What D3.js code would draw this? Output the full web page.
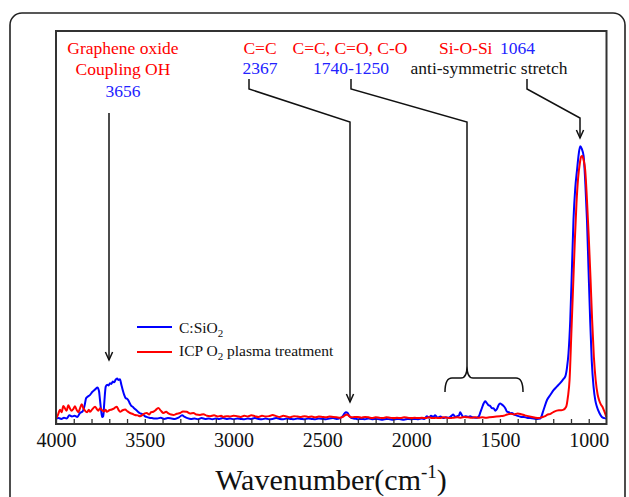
<!DOCTYPE html>
<html>
<head>
<meta charset="utf-8">
<script src="https://cdn.jsdelivr.net/npm/d3@7"></script>
<style>
  html, body { margin: 0; padding: 0; background: #fff; }
  svg { display: block; }
  text { font-family: "Liberation Serif", "Times New Roman", serif; }
</style>
</head>
<body>
<svg id="chart" width="629" height="497"></svg>
<script>
// ---------- DATA ----------
const xTickLabels = [4000, 3500, 3000, 2500, 2000, 1500, 1000];
const xMinorTicks = d3.range(4000, 999, -100);
const seriesNames = ["C:SiO2", "ICP O2 plasma treatment"];

// C:SiO2 (blue) : [wavenumber, absorbance a.u.]
const blueSpectrum = [
 [4000,0.014],[3985,0.015],[3970,0.013],[3955,0.016],[3940,0.014],[3925,0.022],[3910,0.019],[3895,0.021],[3880,0.018],[3865,0.028],
 [3850,0.032],[3840,0.045],[3830,0.066],[3820,0.070],[3808,0.074],[3795,0.082],[3785,0.086],[3775,0.090],[3767,0.093],[3758,0.084],
 [3752,0.060],[3746,0.035],[3740,0.018],[3734,0.020],[3728,0.055],[3720,0.095],[3712,0.100],[3704,0.098],[3696,0.104],[3688,0.102],
 [3680,0.108],[3672,0.106],[3664,0.113],[3656,0.116],[3648,0.112],[3640,0.114],[3632,0.100],[3624,0.086],[3616,0.074],[3608,0.066],
 [3600,0.064],[3592,0.060],[3584,0.052],[3576,0.046],[3568,0.044],[3560,0.040],[3550,0.036],[3540,0.032],[3530,0.028],[3520,0.026],
 [3510,0.024],[3500,0.020],[3490,0.018],[3475,0.016],[3460,0.015],[3445,0.014],[3430,0.014],[3410,0.016],[3390,0.013],[3370,0.015],
 [3350,0.014],[3330,0.013],[3310,0.016],[3290,0.022],[3275,0.018],[3260,0.015],[3240,0.013],[3220,0.014],[3200,0.012],[3180,0.015],
 [3160,0.013],[3140,0.014],[3120,0.012],[3100,0.014],[3080,0.013],[3060,0.015],[3040,0.013],[3020,0.014],[3000,0.012],[2980,0.014],
 [2960,0.013],[2940,0.012],[2920,0.014],[2900,0.013],[2880,0.015],[2860,0.013],[2840,0.012],[2820,0.014],[2800,0.012],[2780,0.013],
 [2760,0.015],[2740,0.013],[2720,0.012],[2700,0.014],[2680,0.013],[2660,0.012],[2640,0.014],[2620,0.013],[2600,0.012],[2580,0.014],
 [2560,0.013],[2540,0.012],[2520,0.014],[2500,0.013],[2480,0.012],[2460,0.014],[2440,0.015],[2420,0.013],[2400,0.015],[2385,0.020],
 [2375,0.027],[2367,0.030],[2358,0.028],[2350,0.022],[2340,0.016],[2325,0.014],[2310,0.013],[2300,0.012],[2280,0.013],[2260,0.012],
 [2240,0.014],[2220,0.012],[2200,0.013],[2180,0.012],[2160,0.011],[2140,0.013],[2120,0.012],[2100,0.011],[2080,0.013],[2060,0.012],
 [2040,0.011],[2020,0.013],[2000,0.012],[1980,0.013],[1960,0.012],[1940,0.014],[1925,0.013],[1912,0.020],[1900,0.016],[1888,0.021],
 [1876,0.018],[1865,0.022],[1850,0.016],[1835,0.019],[1820,0.015],[1805,0.017],[1790,0.016],[1775,0.020],[1763,0.024],[1752,0.018],
 [1740,0.020],[1730,0.022],[1724,0.030],[1716,0.024],[1707,0.018],[1695,0.020],[1680,0.018],[1668,0.020],[1655,0.017],[1640,0.016],
 [1630,0.016],[1618,0.020],[1610,0.030],[1602,0.040],[1592,0.052],[1583,0.058],[1575,0.054],[1565,0.048],[1555,0.046],[1545,0.040],
 [1536,0.040],[1526,0.034],[1517,0.038],[1508,0.048],[1499,0.052],[1490,0.050],[1480,0.046],[1470,0.040],[1461,0.032],[1450,0.030],
 [1440,0.027],[1433,0.028],[1420,0.024],[1408,0.022],[1395,0.020],[1380,0.018],[1365,0.018],[1348,0.016],[1330,0.015],[1311,0.014],
 [1290,0.013],[1273,0.014],[1255,0.035],[1235,0.061],[1215,0.075],[1197,0.087],[1180,0.095],[1161,0.104],[1145,0.113],[1132,0.121],
 [1122,0.145],[1114,0.180],[1104,0.265],[1095,0.390],[1086,0.519],[1076,0.600],[1066,0.646],[1057,0.685],[1048,0.707],[1039,0.700],
 [1029,0.682],[1019,0.610],[1010,0.519],[1001,0.390],[992,0.265],[983,0.160],[973,0.095],[963,0.060],[954,0.044],[940,0.028],
 [926,0.018],[912,0.015],[901,0.014]
];

// ICP O2 plasma treatment (red)
const redSpectrum = [
 [4000,0.014],[3990,0.022],[3977,0.036],[3968,0.030],[3959,0.046],[3950,0.040],[3940,0.034],[3931,0.048],[3922,0.040],[3912,0.034],
 [3903,0.038],[3893,0.045],[3884,0.036],[3874,0.030],[3865,0.040],[3855,0.050],[3846,0.040],[3837,0.034],[3825,0.030],[3815,0.036],
 [3808,0.031],[3795,0.038],[3780,0.044],[3770,0.038],[3762,0.034],[3752,0.040],[3743,0.036],[3730,0.032],[3720,0.036],[3714,0.031],
 [3700,0.035],[3686,0.037],[3672,0.040],[3658,0.044],[3648,0.036],[3639,0.031],[3625,0.035],[3611,0.037],[3597,0.032],[3583,0.028],
 [3570,0.026],[3555,0.023],[3540,0.022],[3527,0.020],[3510,0.024],[3500,0.027],[3489,0.028],[3475,0.024],[3465,0.030],[3452,0.031],
 [3440,0.035],[3424,0.041],[3410,0.034],[3395,0.028],[3380,0.031],[3367,0.027],[3352,0.024],[3339,0.023],[3320,0.026],[3301,0.028],
 [3285,0.032],[3264,0.031],[3245,0.027],[3226,0.028],[3210,0.024],[3189,0.023],[3170,0.025],[3150,0.021],[3132,0.020],[3110,0.022],
 [3090,0.019],[3070,0.021],[3059,0.018],[3040,0.020],[3020,0.019],[3000,0.021],[2980,0.020],[2960,0.018],[2940,0.021],[2920,0.019],
 [2900,0.022],[2880,0.020],[2860,0.018],[2840,0.021],[2820,0.019],[2800,0.020],[2780,0.023],[2760,0.020],[2740,0.018],[2720,0.021],
 [2700,0.019],[2680,0.017],[2660,0.020],[2640,0.019],[2620,0.018],[2600,0.020],[2580,0.018],[2560,0.019],[2540,0.017],[2520,0.019],
 [2500,0.018],[2480,0.017],[2460,0.019],[2440,0.018],[2420,0.017],[2400,0.016],[2385,0.018],[2370,0.023],[2360,0.024],[2350,0.020],
 [2335,0.017],[2320,0.018],[2300,0.018],[2280,0.016],[2260,0.018],[2240,0.017],[2220,0.015],[2200,0.017],[2180,0.016],[2160,0.015],
 [2140,0.017],[2120,0.016],[2100,0.015],[2080,0.016],[2060,0.015],[2040,0.017],[2020,0.016],[2000,0.015],[1980,0.016],[1960,0.015],
 [1940,0.016],[1920,0.015],[1900,0.017],[1880,0.015],[1860,0.016],[1840,0.015],[1820,0.017],[1800,0.016],[1780,0.015],[1760,0.016],
 [1740,0.017],[1720,0.016],[1700,0.018],[1680,0.017],[1660,0.016],[1640,0.017],[1620,0.016],[1600,0.017],[1580,0.016],[1560,0.017],
 [1540,0.018],[1520,0.019],[1500,0.020],[1480,0.021],[1460,0.024],[1440,0.026],[1420,0.024],[1400,0.027],[1380,0.025],[1360,0.022],
 [1340,0.020],[1320,0.018],[1300,0.016],[1280,0.015],[1260,0.018],[1245,0.020],[1235,0.023],[1215,0.026],[1197,0.031],[1180,0.034],
 [1160,0.035],[1145,0.036],[1127,0.044],[1117,0.070],[1108,0.112],[1098,0.230],[1088,0.350],[1078,0.470],[1069,0.562],[1060,0.625],
 [1050,0.664],[1043,0.680],[1037,0.682],[1028,0.670],[1020,0.646],[1010,0.570],[1000,0.477],[990,0.370],[981,0.265],[971,0.170],
 [961,0.112],[950,0.075],[942,0.061],[932,0.050],[923,0.044],[912,0.032],[901,0.018]
];

// ---------- LAYOUT ----------
const svg = d3.select("#chart");
const frame = { left: 56, top: 31, right: 606.5, bottom: 424 };
const BLUE = "#0000ff", RED = "#ff0000";
const TXT_BLUE = "#2222ff";

const x = d3.scaleLinear().domain([4000, 900]).range([frame.left, frame.right]);
const y = d3.scaleLinear().domain([0, 1]).range([frame.bottom, frame.top]);

svg.append("rect").attr("width", 629).attr("height", 497).attr("fill", "#fff");

// outer rounded border
svg.append("rect")
  .attr("x", 10).attr("y", 13).attr("width", 615).attr("height", 530)
  .attr("rx", 12).attr("fill", "none").attr("stroke", "#222").attr("stroke-width", 1.6);

// curves
const line = d3.line().x(d => x(d[0])).y(d => y(d[1])).curve(d3.curveMonotoneX);
svg.append("path").datum(blueSpectrum).attr("d", line)
  .attr("fill", "none").attr("stroke", BLUE).attr("stroke-width", 2).attr("stroke-linejoin", "round");
svg.append("path").datum(redSpectrum).attr("d", line)
  .attr("fill", "none").attr("stroke", RED).attr("stroke-width", 2).attr("stroke-linejoin", "round");

// frame
svg.append("rect")
  .attr("x", frame.left).attr("y", frame.top)
  .attr("width", frame.right - frame.left).attr("height", frame.bottom - frame.top)
  .attr("fill", "none").attr("stroke", "#333").attr("stroke-width", 2);

// minor ticks (inward)
const minorAxis = svg.append("g").attr("transform", `translate(0,${frame.bottom})`)
  .call(d3.axisBottom(x).tickValues(xMinorTicks).tickSize(-5).tickFormat(""));
minorAxis.select(".domain").remove();
minorAxis.selectAll("line").attr("stroke", "#333").attr("stroke-width", 1.3);

// labels
const labelAxis = svg.append("g").attr("transform", `translate(0,${frame.bottom})`)
  .call(d3.axisBottom(x).tickValues(xTickLabels).tickSize(0).tickPadding(9).tickFormat(d3.format("d")));
labelAxis.select(".domain").remove();
labelAxis.selectAll("text")
  .attr("font-family", "'Liberation Serif', 'Times New Roman', serif")
  .attr("font-size", 20).attr("fill", "#111");

// axis title
const title = svg.append("text").attr("x", 331).attr("y", 490)
  .attr("text-anchor", "middle").attr("font-size", 30).attr("fill", "#111");
title.append("tspan").text("Wavenumber(cm");
title.append("tspan").attr("font-size", 19).attr("dy", -12).text("-1");
title.append("tspan").attr("dy", 12).text(")");

// ---------- ANNOTATIONS ----------
const defs = svg.append("defs");
defs.append("marker").attr("id", "arrow")
  .attr("viewBox", "-10 -6 12 12").attr("refX", 0).attr("refY", 0)
  .attr("markerWidth", 12).attr("markerHeight", 12)
  .attr("markerUnits", "userSpaceOnUse").attr("orient", "auto")
  .append("path").attr("d", "M-8,-3.6 L0,0 L-8,3.6")
  .attr("fill", "none").attr("stroke", "#111").attr("stroke-width", 1.5);

function addText(tx, ty, str, color, anchor) {
  svg.append("text").attr("x", tx).attr("y", ty).attr("text-anchor", anchor || "middle")
    .attr("font-size", 17.5).attr("fill", color).text(str);
}
addText(123, 54, "Graphene oxide", RED);
addText(123, 75, "Coupling OH", RED);
addText(123, 97, "3656", TXT_BLUE);
addText(260, 54, "C=C", RED);
addText(260, 74, "2367", TXT_BLUE);
addText(350, 54, "C=C, C=O, C-O", RED);
addText(351, 74, "1740-1250", TXT_BLUE);
addText(439, 54, "Si-O-Si", RED, "start");
addText(500, 54, "1064", TXT_BLUE, "start");
addText(489, 74, "anti-symmetric stretch", "#111");

const pathGen = d3.line();
const arrows = [
  [[109, 113], [109, 360]],
  [[249, 79], [249, 89], [350, 122], [350, 402]],
  [[527, 79], [527, 89], [580, 118], [580, 138]]
];
arrows.forEach(pts => {
  svg.append("path").attr("d", pathGen(pts)).attr("fill", "none")
    .attr("stroke", "#111").attr("stroke-width", 1.5).attr("marker-end", "url(#arrow)");
});
// bracket line
svg.append("path").attr("d", pathGen([[351, 79], [351, 89], [467, 122], [467, 366]]))
  .attr("fill", "none").attr("stroke", "#111").attr("stroke-width", 1.5);
svg.append("path")
  .attr("d", "M445,392 Q445,378 452,378 L461,378 Q467,378 467,366 Q467,378 473,378 L516,378 Q523,378 523,392")
  .attr("fill", "none").attr("stroke", "#111").attr("stroke-width", 1.5);

// ---------- LEGEND ----------
const legend = svg.append("g");
[[BLUE, 327, 333, "C:SiO", "2", ""], [RED, 352, 356, "ICP O", "2", " plasma treatment"]].forEach(r => {
  legend.append("line").attr("x1", 137).attr("x2", 172).attr("y1", r[1]).attr("y2", r[1])
    .attr("stroke", r[0]).attr("stroke-width", 2);
  const t = legend.append("text").attr("x", 179).attr("y", r[2]).attr("font-size", 15.5).attr("fill", "#111");
  t.append("tspan").text(r[3]);
  t.append("tspan").attr("font-size", 11).attr("dy", 4).text(r[4]);
  if (r[5]) t.append("tspan").attr("dy", -4).text(r[5]);
});
</script>
</body>
</html>
